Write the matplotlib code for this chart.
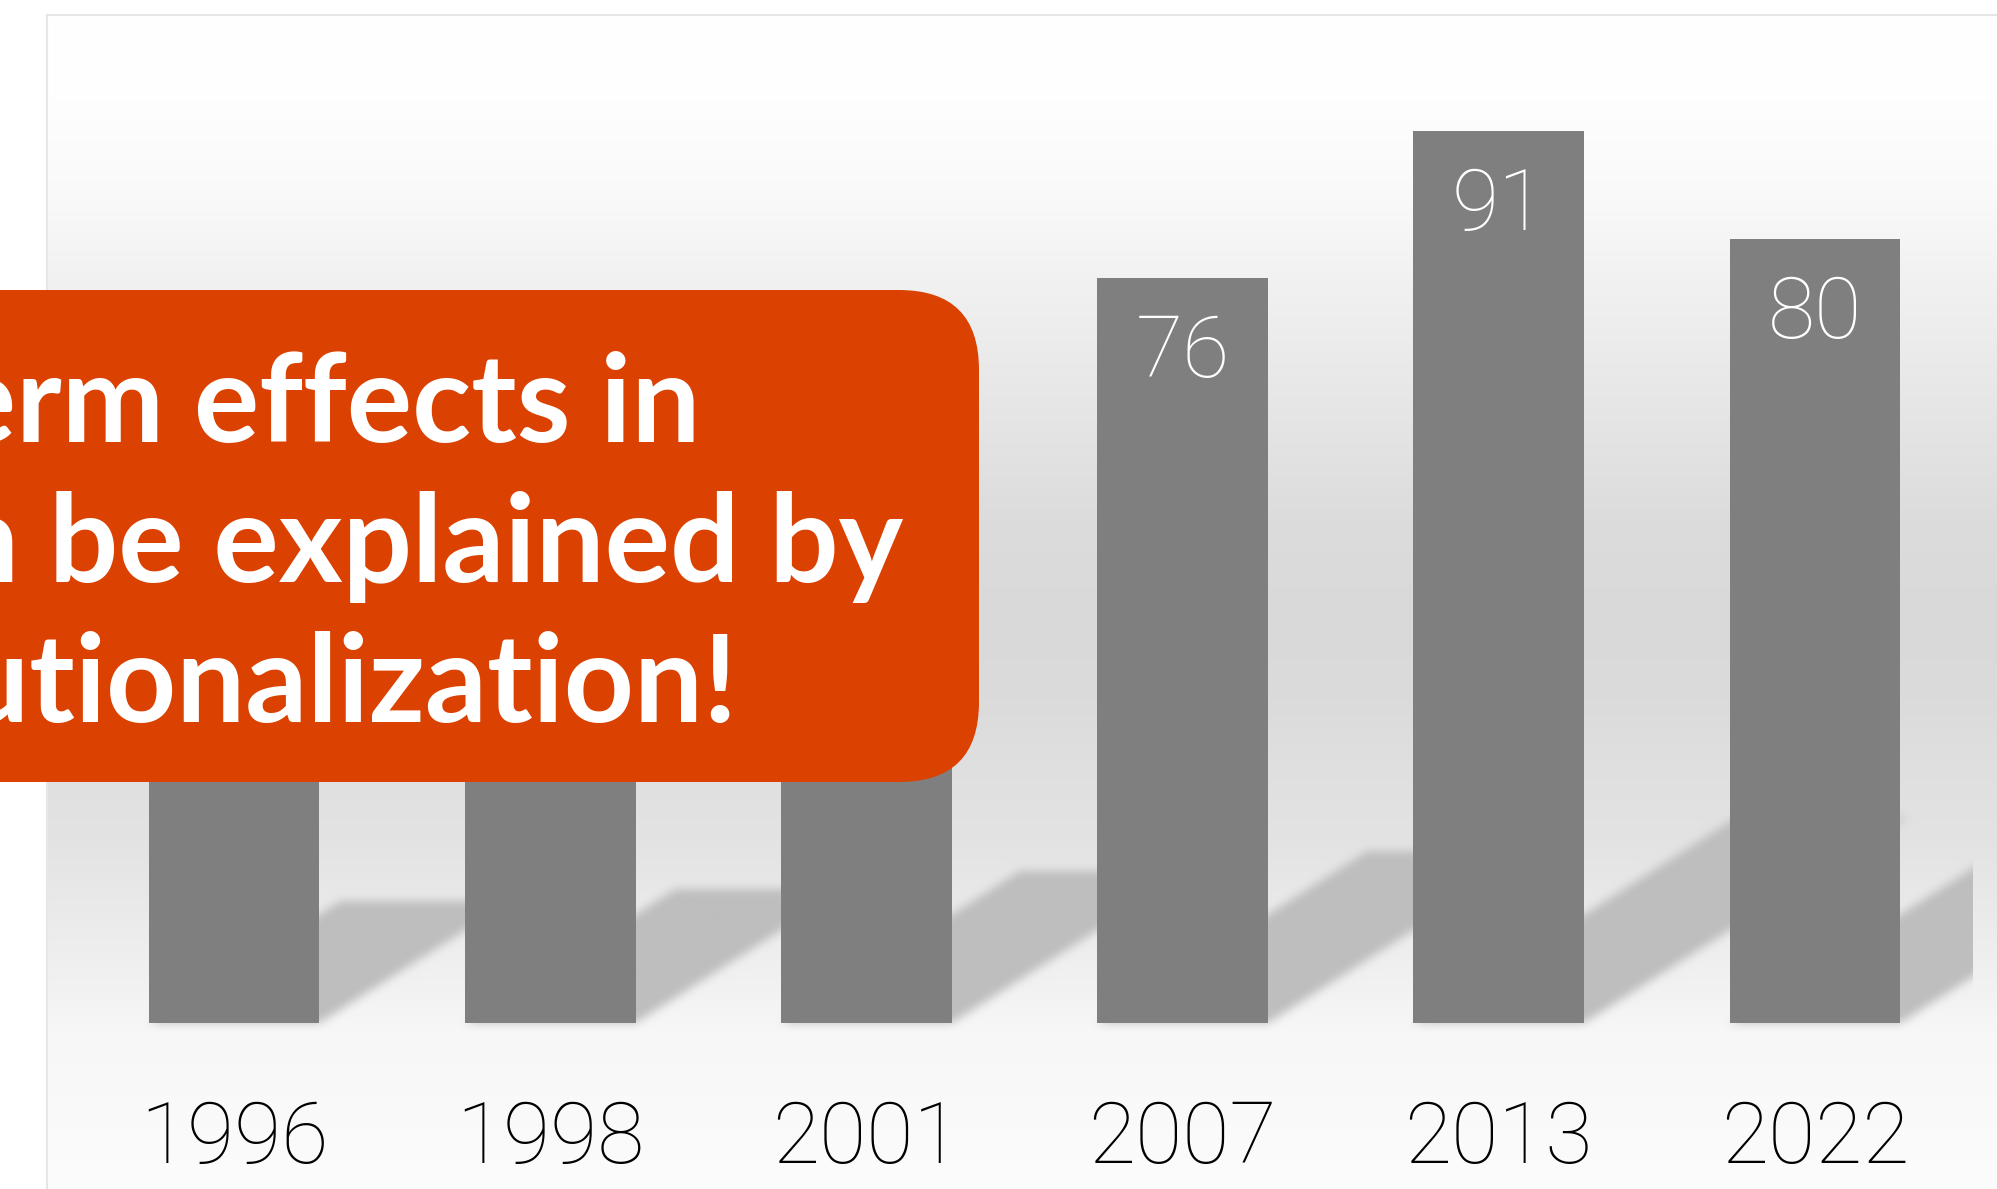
import numpy as np
import matplotlib
matplotlib.use('Agg')
import matplotlib.pyplot as plt
from matplotlib.patches import FancyBboxPatch, Rectangle
from matplotlib.path import Path
from matplotlib.transforms import IdentityTransform

# data (first three bars are hidden, estimated from their shadows)
years = ['1996', '1998', '2001', '2007', '2013', '2022']
values = [54, 59, 67, 76, 91, 80]
box_lines = ['Long-term effects in', 'can be explained by', 'institutionalization!']

W, H = 1997, 1189
BAR_W = 0.54
SHADOW_SCALE = 0.2313   # shadow height as a fraction of the bar
SHADOW_SLANT = 1.57     # horizontal px per vertical px of the shadow
NUM_FONT = ['Roboto', 'DejaVu Sans']
BOX_FONT = ['Lato', 'DejaVu Sans']

fig = plt.figure(figsize=(W / 100, H / 100), dpi=100, facecolor='white')
ax = fig.add_axes([76 / W, (H - 1023) / H, (1973 - 76) / W, 980 / H])
ax.set_xlim(-0.5, 5.5)
ax.set_ylim(0, 100)
ax.set_facecolor('none')

x = np.arange(len(years))
ax.bar(x, values, width=BAR_W, color='#7f7f7f', zorder=2)
for xi, v in zip(x, values):
    ax.annotate(str(v), (xi, v), xytext=(0, -25), textcoords='offset points',
                ha='center', va='top', color='white', fontsize=62,
                family=NUM_FONT, fontweight='light', zorder=3)

ax.set_xticks(x, years)
ax.tick_params(axis='x', length=0, pad=55, labelsize=62, labelcolor='black')
for lab in ax.get_xticklabels():
    lab.set_family(NUM_FONT)
    lab.set_fontweight('light')
ax.set_yticks([])
for s in ax.spines.values():
    s.set_visible(False)

# background: vertical gradient of the chart area
rows = np.arange(H)
stop_y = [15, 100, 200, 270, 420, 520, 620, 700, 760, 840, 900, 1000, 1030, 1189]
stop_v = [255, 254, 249, 242, 229, 220, 217, 219, 223, 227, 233, 243, 247, 252]
grad = np.interp(rows, stop_y, stop_v)
bg = np.tile(grad[:, None], (1, W))
bg[:15, :] = 255
bg[:, :47] = 255

# shadows: bars sheared up-right, blurred
mask = np.zeros((H, W))
for xi, v in zip(x, values):
    x0, y0 = ax.transData.transform((xi - BAR_W / 2, 0))
    x1, _ = ax.transData.transform((xi + BAR_W / 2, 0))
    h = ax.transData.transform((xi, v * SHADOW_SCALE))[1] - y0
    dx = SHADOW_SLANT * h
    poly = Path([(x0, y0), (x1, y0), (x1 + dx, y0 + h), (x0 + dx, y0 + h), (x0, y0)])
    r0, r1 = max(int(H - (y0 + h)) - 2, 0), min(int(H - y0) + 2, H)
    c0, c1 = max(int(x0) - 2, 0), min(int(x1 + dx) + 3, W)
    cc, rr = np.meshgrid(np.arange(c0, c1), np.arange(r0, r1))
    pts = np.column_stack([cc.ravel() + 0.5, H - (rr.ravel() + 0.5)])
    inside = poly.contains_points(pts).reshape(rr.shape)
    mask[r0:r1, c0:c1] = np.maximum(mask[r0:r1, c0:c1], inside)


def box_blur(a, r, axis):
    pad = [(0, 0), (0, 0)]
    pad[axis] = (r + 1, r)
    c = np.cumsum(np.pad(a, pad, mode='edge'), axis=axis)
    n = a.shape[axis]
    hi = np.take(c, np.arange(2 * r + 1, n + 2 * r + 1), axis=axis)
    lo = np.take(c, np.arange(0, n), axis=axis)
    return (hi - lo) / (2 * r + 1)


for _ in range(3):
    mask = box_blur(mask, 4, 0)
    mask = box_blur(mask, 4, 1)

bx0, by0, bx1, by1 = ax.bbox.extents
cols = np.arange(W) + 0.5
mask[:, (cols < bx0) | (cols > bx1)] = 0

img = bg * (1 - mask) + 190 * mask
rgb = np.repeat(img[..., None] / 255.0, 3, axis=2)
fig.figimage(rgb, xo=0, yo=0, origin='upper', zorder=-10)

# chart area frame
fig.add_artist(Rectangle((47, -20), 3000, H - 15 + 20, fill=False,
                         edgecolor='#e6e6e6', linewidth=1.5,
                         transform=IdentityTransform(), zorder=-5))

# orange call-out box
fig.add_artist(FancyBboxPatch((-500, H - 782), 979 + 500, 782 - 290,
                              boxstyle='round,pad=0,rounding_size=80',
                              facecolor='#db4100', edgecolor='none',
                              transform=IdentityTransform(), zorder=5))
for line, right, base in zip(box_lines, [700, 903, 738], [442, 582, 722]):
    fig.text(right, H - base, line, transform=IdentityTransform(),
             ha='right', va='baseline', color='white', fontsize=88,
             fontweight='bold', family=BOX_FONT, zorder=6)

fig.savefig('out.png', dpi=100, facecolor='white')
